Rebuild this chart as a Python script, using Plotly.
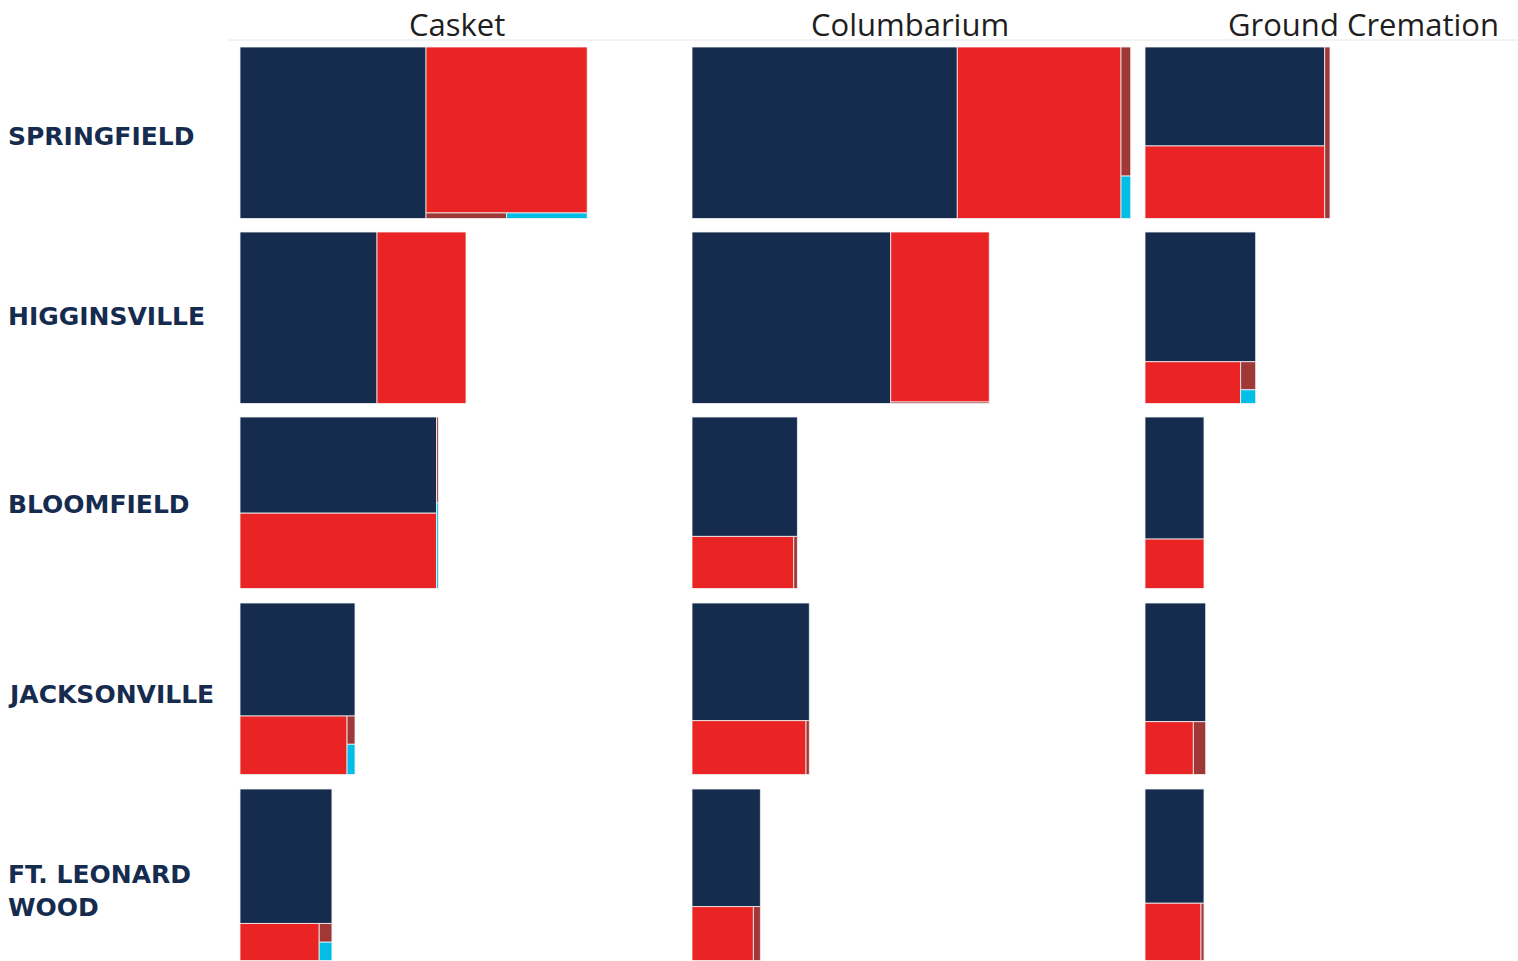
import plotly.graph_objects as go

# ---------------- data ----------------
sites = ["SPRINGFIELD", "HIGGINSVILLE", "BLOOMFIELD", "JACKSONVILLE", "FT. LEONARD<br>WOOD"]
burial_types = ["Casket", "Columbarium", "Ground Cremation"]
segments = ["Segment 1", "Segment 2", "Segment 3", "Segment 4"]

casket_seg1 = [186.0, 137.0, 110.2, 75.8, 72.1]
casket_seg2 = [156.0, 89.0, 86.3, 36.5, 17.1]
casket_seg3 = [2.6, 0.0, 0.9, 1.31, 1.39]
casket_seg4 = [2.6, 0.0, 0.9, 1.40, 1.36]

columbarium_seg1 = [265.3, 198.7, 73.4, 80.5, 46.9]
columbarium_seg2 = [163.7, 97.7, 30.9, 35.8, 19.3]
columbarium_seg3 = [7.3, 0.86, 1.12, 1.04, 2.2]
columbarium_seg4 = [2.4, 0.0, 0.0, 0.0, 0.0]

ground_seg1 = [103.7, 83.7, 42.0, 42.0, 39.3]
ground_seg2 = [76.0, 23.3, 17.0, 14.9, 18.7]
ground_seg3 = [5.3, 2.46, 0.0, 3.8, 1.0]
ground_seg4 = [0.0, 1.2, 0.0, 0.0, 0.0]

# ---------------- styling / layout ----------------
W, H = 1518, 961
seg_colors = ["#162C4F", "#EA2424", "#A03838", "#00BEE6"]
col_x0 = [240, 692, 1145]          # left edge of each column's treemaps (px)
col_center = [457, 910, 1363]
row_top = [47, 232, 417, 603, 789]
row_label_y = [136, 316, 505, 694, 891]
row_h = 171.5
px_per_unit = 1.0

series = {
    "Casket": [casket_seg1, casket_seg2, casket_seg3, casket_seg4],
    "Columbarium": [columbarium_seg1, columbarium_seg2, columbarium_seg3, columbarium_seg4],
    "Ground Cremation": [ground_seg1, ground_seg2, ground_seg3, ground_seg4],
}

fig = go.Figure()
for ci, bt in enumerate(burial_types):
    segs = series[bt]
    for ri, site in enumerate(sites):
        vals = [segs[k][ri] for k in range(4)]
        labels = [segments[k] for k in range(4) if vals[k] > 0]
        values = [vals[k] for k in range(4) if vals[k] > 0]
        colors = [seg_colors[k] for k in range(4) if vals[k] > 0]
        total = sum(values)
        x0 = col_x0[ci]
        x1 = x0 + total * px_per_unit
        y0 = row_top[ri]
        y1 = y0 + row_h
        fig.add_trace(go.Treemap(
            labels=labels,
            parents=[""] * len(labels),
            values=values,
            sort=False,
            textinfo="none",
            hoverinfo="label+value",
            marker=dict(colors=colors, line=dict(color="#f4f4f4", width=0.8),
                        pad=dict(t=0, l=0, r=0, b=0)),
            tiling=dict(packing="squarify", squarifyratio=1.618, pad=0),
            pathbar=dict(visible=False),
            domain=dict(x=[x0 / W, x1 / W], y=[1 - y1 / H, 1 - y0 / H]),
            name=f"{site} {bt}",
        ))

annotations = []
for ci, bt in enumerate(burial_types):
    annotations.append(dict(
        x=col_center[ci] / W, y=1 - 24 / H, xref="paper", yref="paper",
        text=bt, showarrow=False, xanchor="center", yanchor="middle",
        font=dict(family="Open Sans", size=31, color="#1e1e1e"),
    ))
for ri, site in enumerate(sites):
    annotations.append(dict(
        x=6 / W, y=1 - row_label_y[ri] / H, xref="paper", yref="paper",
        text=site, showarrow=False, xanchor="left", yanchor="middle", align="left",
        font=dict(family="DejaVu Sans", size=25, color="#162C4F", weight="bold"),
    ))

fig.update_layout(
    width=W, height=H,
    margin=dict(l=0, r=0, t=0, b=0),
    paper_bgcolor="white", plot_bgcolor="white",
    showlegend=False,
    annotations=annotations,
    shapes=[dict(type="line", xref="paper", yref="paper",
                 x0=228 / W, x1=1.0, y0=1 - 40 / H, y1=1 - 40 / H,
                 line=dict(color="#e6e6e6", width=1))],
)

fig.write_html("out.html")
